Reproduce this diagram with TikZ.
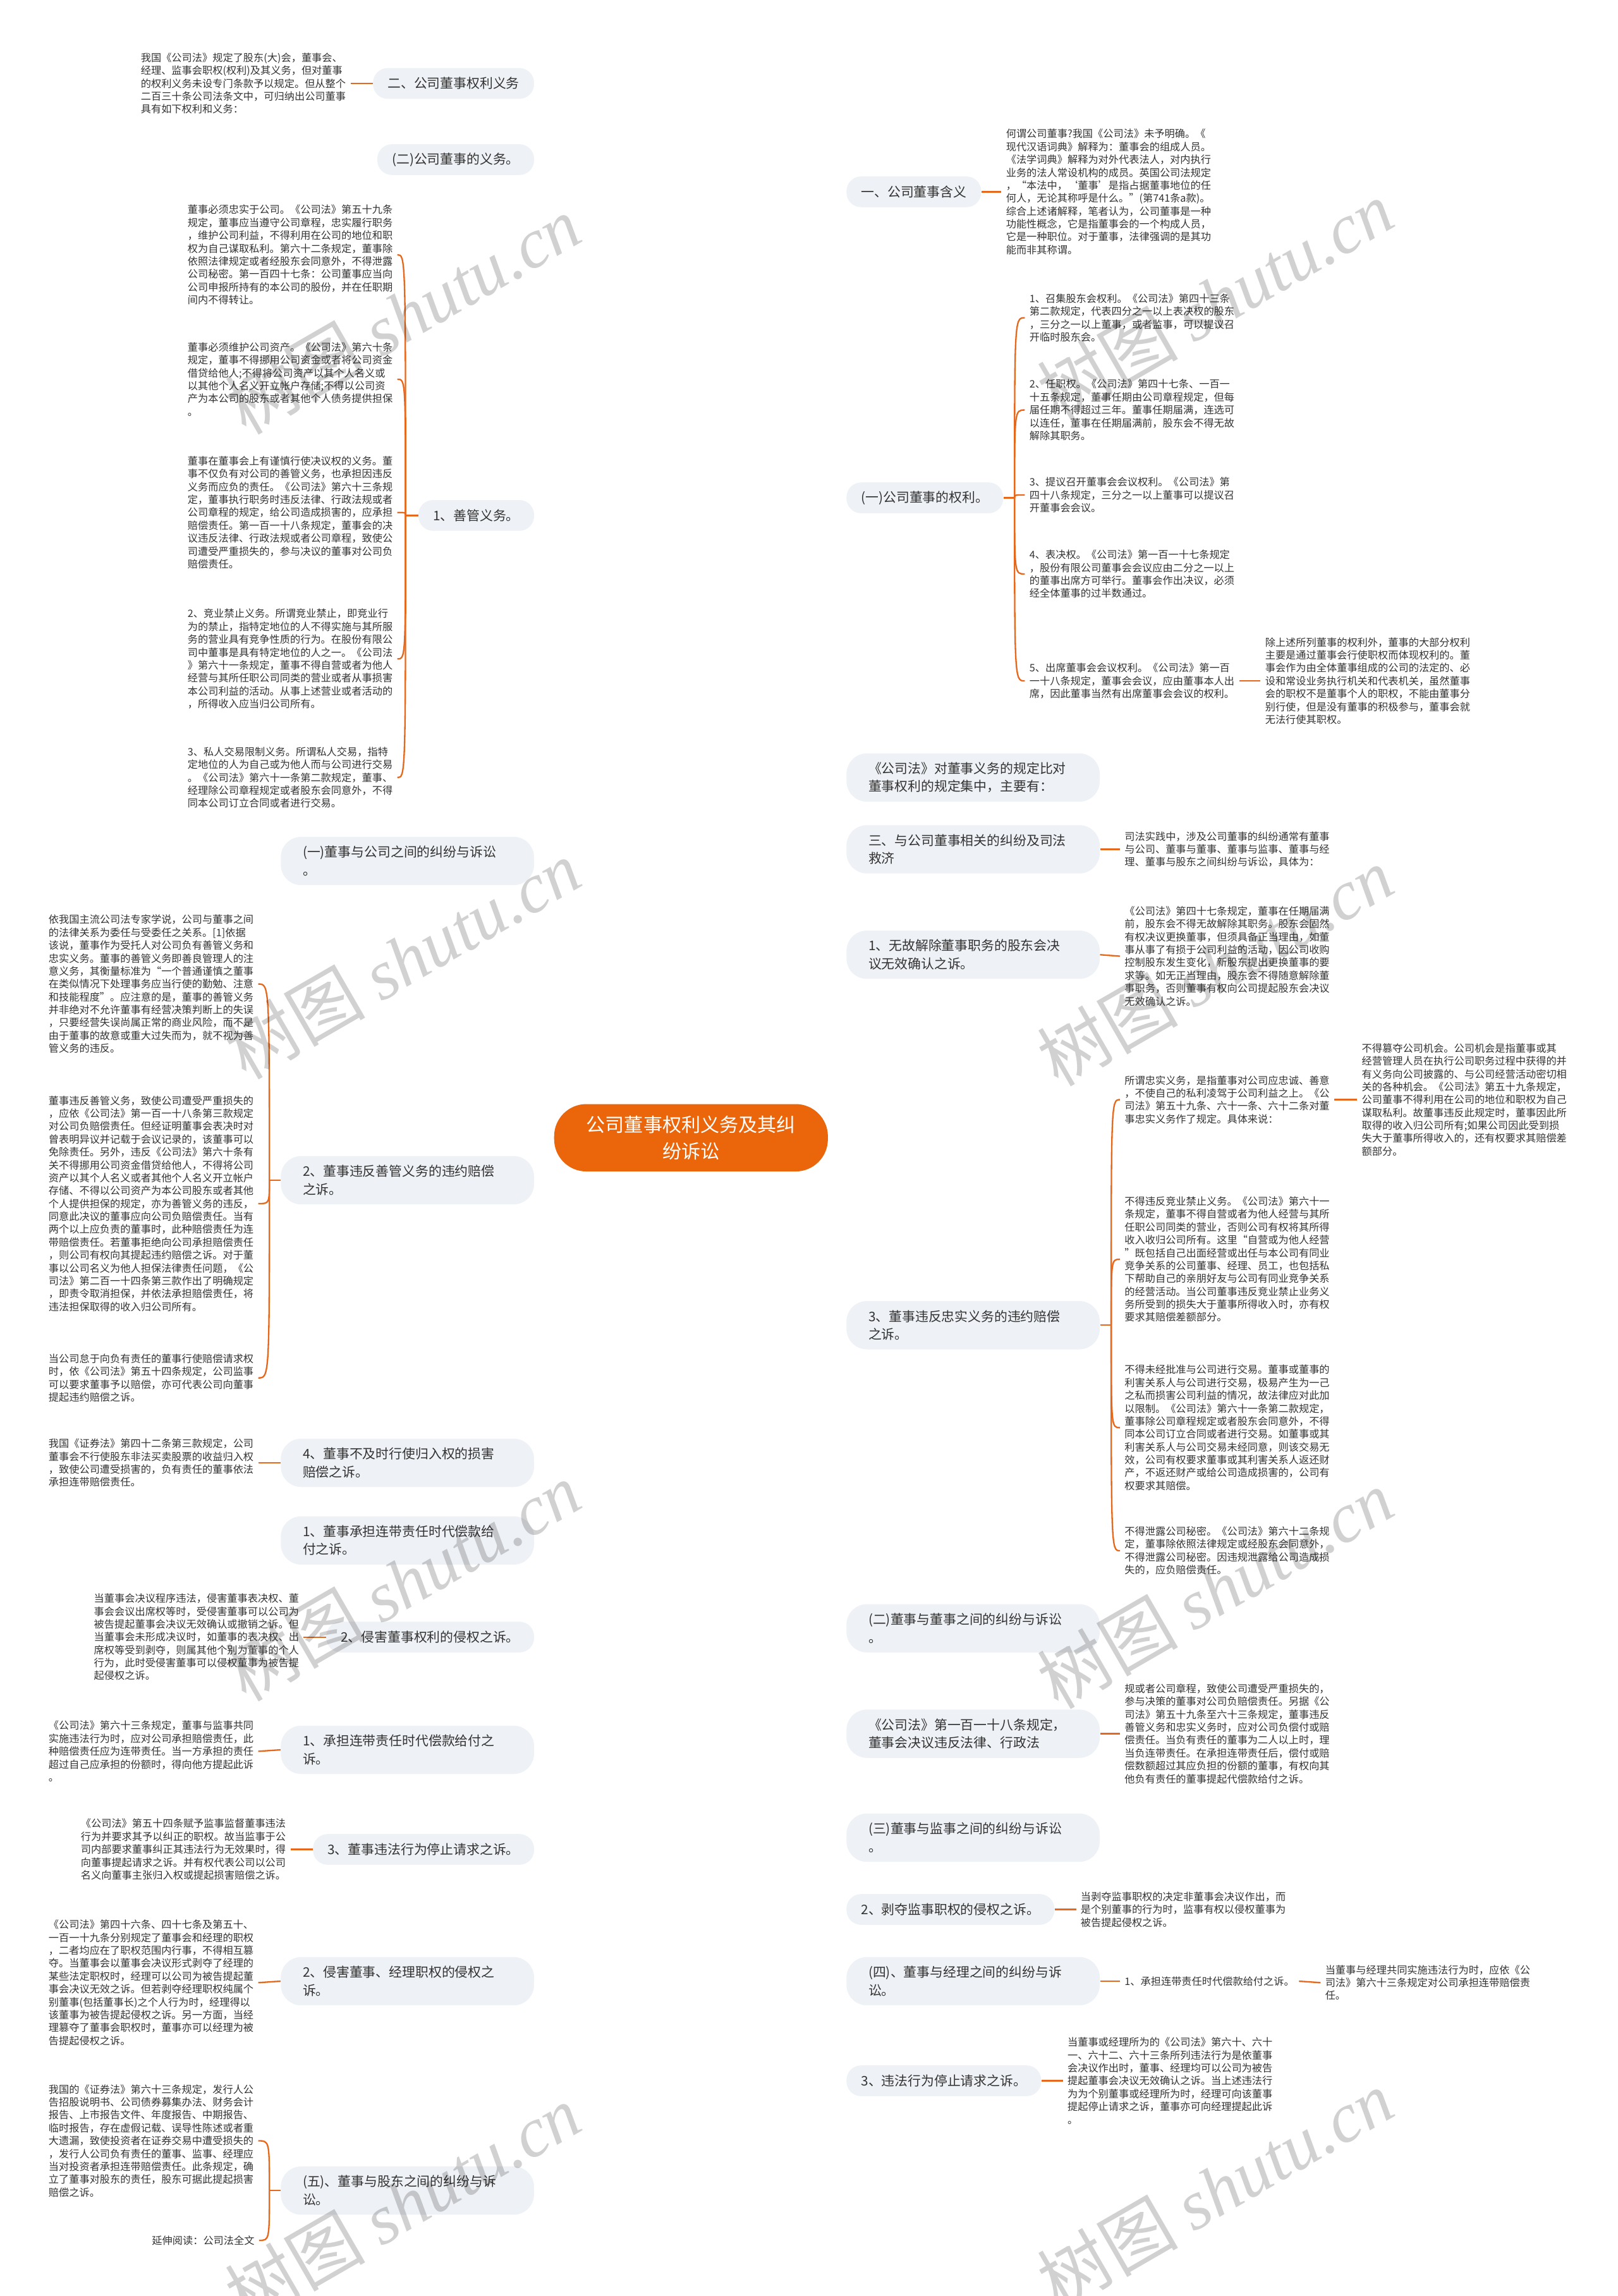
\documentclass[tikz,border=0pt]{standalone}
\usepackage{fontspec}
\setmainfont{Noto Sans CJK SC}
\newfontfamily\wmfont{Liberation Serif}
\usetikzlibrary{positioning,calc,backgrounds}
\definecolor{linkorange}{RGB}{229,104,28}
\definecolor{rootorange}{RGB}{235,102,10}
\definecolor{topicgray}{RGB}{238,241,245}
\definecolor{inkgray}{RGB}{51,51,51}
\tikzset{
  rootnode/.style={fill=rootorange, text=white, rounded corners=22pt, text width=145pt, align=center, minimum height=46pt, inner xsep=21pt, font=\fontsize{13}{18}\selectfont},
  topicnode/.style={fill=topicgray, text=inkgray, rounded corners=10pt, minimum height=21pt, inner xsep=10pt, inner ysep=3pt, font=\fontsize{9}{12.3}\selectfont},
  topicwide/.style={topicnode, text width=143pt, align=left, minimum height=33pt, inner xsep=15pt, rounded corners=14pt},
  leafnote/.style={text=inkgray, align=left, inner sep=3pt, font=\fontsize{7}{8.8}\selectfont},
  linkline/.style={draw=linkorange, line width=1pt},
  watermark/.style={rotate=30, text=black, text opacity=0.18, font=\fontsize{48}{48}\selectfont}
}

\begin{document}
\begin{tikzpicture}[x=1pt, y=-1pt]
  \useasboundingbox[fill=white] (0,0) rectangle (1105,1568);

  \node[rootnode] (root) at (472,777) {公司董事权利义务及其纠\\纷诉讼};
  \coordinate (hub) at (472,777);

  % left branches
  \node[topicnode, anchor=east] (l1) at (365,57) {二、公司董事权利义务};
  \node[topicnode, anchor=east] (l2) at (365,109) {(二)公司董事的义务。};
  \node[topicnode, anchor=east] (l3) at (365,352) {1、善管义务。};
  \node[topicwide, anchor=east] (l4) at (365,588) {(一)董事与公司之间的纠纷与诉讼\\。};
  \node[topicwide, anchor=east] (l5) at (365,806) {2、董事违反善管义务的违约赔偿\\之诉。};
  \node[topicwide, anchor=east] (l6) at (365,999) {4、董事不及时行使归入权的损害\\赔偿之诉。};
  \node[topicwide, anchor=east] (l7) at (365,1052) {1、董事承担连带责任时代偿款给\\付之诉。};
  \node[topicnode, anchor=east] (l8) at (365,1118) {2、侵害董事权利的侵权之诉。};
  \node[topicwide, anchor=east] (l9) at (365,1195) {1、承担连带责任时代偿款给付之\\诉。};
  \node[topicnode, anchor=east] (l10) at (365,1263) {3、董事违法行为停止请求之诉。};
  \node[topicwide, anchor=east] (l11) at (365,1353) {2、侵害董事、经理职权的侵权之\\诉。};
  \node[topicwide, anchor=east] (l12) at (365,1496) {(五)、董事与股东之间的纠纷与诉\\讼。};

  % right branches
  \node[topicnode, anchor=west] (r1) at (578,131) {一、公司董事含义};
  \node[topicnode, anchor=west] (r2) at (578,340) {(一)公司董事的权利。};
  \node[topicwide, anchor=west] (r3) at (578,531) {《公司法》对董事义务的规定比对\\董事权利的规定集中，主要有：};
  \node[topicwide, anchor=west] (r4) at (578,580) {三、与公司董事相关的纠纷及司法\\救济};
  \node[topicwide, anchor=west] (r5) at (578,652) {1、无故解除董事职务的股东会决\\议无效确认之诉。};
  \node[topicwide, anchor=west] (r6) at (578,905) {3、董事违反忠实义务的违约赔偿\\之诉。};
  \node[topicwide, anchor=west] (r7) at (578,1112) {(二)董事与董事之间的纠纷与诉讼\\。};
  \node[topicwide, anchor=west] (r8) at (578,1184) {《公司法》第一百一十八条规定，\\董事会决议违反法律、行政法};
  \node[topicwide, anchor=west] (r9) at (578,1255) {(三)董事与监事之间的纠纷与诉讼\\。};
  \node[topicnode, anchor=west] (r10) at (578,1304) {2、剥夺监事职权的侵权之诉。};
  \node[topicwide, anchor=west] (r11) at (578,1353) {(四)、董事与经理之间的纠纷与诉\\讼。};
  \node[topicnode, anchor=west] (r12) at (578,1421) {3、违法行为停止请求之诉。};

  % notes on the left
  \node[leafnote, anchor=west] (tl1) at (93,57) {我国《公司法》规定了股东(大)会，董事会、\\经理、监事会职权(权利)及其义务，但对董事\\的权利义务未设专门条款予以规定。但从整个\\二百三十条公司法条文中，可归纳出公司董事\\具有如下权利和义务：};
  \node[leafnote, anchor=west] (gs1) at (125,174) {董事必须忠实于公司。《公司法》第五十九条\\规定，董事应当遵守公司章程，忠实履行职务\\，维护公司利益，不得利用在公司的地位和职\\权为自己谋取私利。第六十二条规定，董事除\\依照法律规定或者经股东会同意外，不得泄露\\公司秘密。第一百四十七条：公司董事应当向\\公司申报所持有的本公司的股份，并在任职期\\间内不得转让。};
  \node[leafnote, anchor=west] (gs2) at (125,259) {董事必须维护公司资产。《公司法》第六十条\\规定，董事不得挪用公司资金或者将公司资金\\借贷给他人;不得将公司资产以其个人名义或\\以其他个人名义开立帐户存储;不得以公司资\\产为本公司的股东或者其他个人债务提供担保\\。};
  \node[leafnote, anchor=west] (gs3) at (125,350) {董事在董事会上有谨慎行使决议权的义务。董\\事不仅负有对公司的善管义务，也承担因违反\\义务而应负的责任。《公司法》第六十三条规\\定，董事执行职务时违反法律、行政法规或者\\公司章程的规定，给公司造成损害的，应承担\\赔偿责任。第一百一十八条规定，董事会的决\\议违反法律、行政法规或者公司章程，致使公\\司遭受严重损失的，参与决议的董事对公司负\\赔偿责任。};
  \node[leafnote, anchor=west] (gs4) at (125,450) {2、竞业禁止义务。所谓竞业禁止，即竞业行\\为的禁止，指特定地位的人不得实施与其所服\\务的营业具有竞争性质的行为。在股份有限公\\司中董事是具有特定地位的人之一。《公司法\\》第六十一条规定，董事不得自营或者为他人\\经营与其所任职公司同类的营业或者从事损害\\本公司利益的活动。从事上述营业或者活动的\\，所得收入应当归公司所有。};
  \node[leafnote, anchor=west] (gs5) at (125,531) {3、私人交易限制义务。所谓私人交易，指特\\定地位的人为自己或为他人而与公司进行交易\\。《公司法》第六十一条第二款规定，董事、\\经理除公司章程规定或者股东会同意外，不得\\同本公司订立合同或者进行交易。};
  \node[leafnote, anchor=west] (wy1) at (30,672) {依我国主流公司法专家学说，公司与董事之间\\的法律关系为委任与受委任之关系。[1]依据\\该说，董事作为受托人对公司负有善管义务和\\忠实义务。董事的善管义务即善良管理人的注\\意义务，其衡量标准为“一个普通谨慎之董事\\在类似情况下处理事务应当行使的勤勉、注意\\和技能程度”。应注意的是，董事的善管义务\\并非绝对不允许董事有经营决策判断上的失误\\，只要经营失误尚属正常的商业风险，而不是\\由于董事的故意或重大过失而为，就不视为善\\管义务的违反。};
  \node[leafnote, anchor=west] (wy2) at (30,822) {董事违反善管义务，致使公司遭受严重损失的\\，应依《公司法》第一百一十八条第三款规定\\对公司负赔偿责任。但经证明董事会表决时对\\曾表明异议并记载于会议记录的，该董事可以\\免除责任。另外，违反《公司法》第六十条有\\关不得挪用公司资金借贷给他人，不得将公司\\资产以其个人名义或者其他个人名义开立帐户\\存储、不得以公司资产为本公司股东或者其他\\个人提供担保的规定，亦为善管义务的违反，\\同意此决议的董事应向公司负赔偿责任。当有\\两个以上应负责的董事时，此种赔偿责任为连\\带赔偿责任。若董事拒绝向公司承担赔偿责任\\，则公司有权向其提起违约赔偿之诉。对于董\\事以公司名义为他人担保法律责任问题，《公\\司法》第二百一十四条第三款作出了明确规定\\，即责令取消担保，并依法承担赔偿责任，将\\违法担保取得的收入归公司所有。};
  \node[leafnote, anchor=west] (wy3) at (30,941) {当公司怠于向负有责任的董事行使赔偿请求权\\时，依《公司法》第五十四条规定，公司监事\\可以要求董事予以赔偿，亦可代表公司向董事\\提起违约赔偿之诉。};
  \node[leafnote, anchor=west] (tl6) at (30,999) {我国《证券法》第四十二条第三款规定，公司\\董事会不行使股东非法买卖股票的收益归入权\\，致使公司遭受损害的，负有责任的董事依法\\承担连带赔偿责任。};
  \node[leafnote, anchor=west] (tl8) at (61,1118) {当董事会决议程序违法，侵害董事表决权、董\\事会会议出席权等时，受侵害董事可以公司为\\被告提起董事会决议无效确认或撤销之诉。但\\当董事会未形成决议时，如董事的表决权、出\\席权等受到剥夺，则属其他个别为董事的个人\\行为，此时受侵害董事可以侵权董事为被告提\\起侵权之诉。};
  \node[leafnote, anchor=west] (tl9) at (30,1196) {《公司法》第六十三条规定，董事与监事共同\\实施违法行为时，应对公司承担赔偿责任，此\\种赔偿责任应为连带责任。当一方承担的责任\\超过自己应承担的份额时，得向他方提起此诉\\。};
  \node[leafnote, anchor=west] (tl10) at (52,1263) {《公司法》第五十四条赋予监事监督董事违法\\行为并要求其予以纠正的职权。故当监事于公\\司内部要求董事纠正其违法行为无效果时，得\\向董事提起请求之诉。并有权代表公司以公司\\名义向董事主张归入权或提起损害赔偿之诉。};
  \node[leafnote, anchor=west] (tl11) at (30,1354) {《公司法》第四十六条、四十七条及第五十、\\一百一十九条分别规定了董事会和经理的职权\\，二者均应在了职权范围内行事，不得相互篡\\夺。当董事会以董事会决议形式剥夺了经理的\\某些法定职权时，经理可以公司为被告提起董\\事会决议无效之诉。但若剥夺经理职权纯属个\\别董事(包括董事长)之个人行为时，经理得以\\该董事为被告提起侵权之诉。另一方面，当经\\理篡夺了董事会职权时，董事亦可以经理为被\\告提起侵权之诉。};
  \node[leafnote, anchor=west] (wg1) at (30,1462) {我国的《证券法》第六十三条规定，发行人公\\告招股说明书、公司债券募集办法、财务会计\\报告、上市报告文件、年度报告、中期报告、\\临时报告，存在虚假记载、误导性陈述或者重\\大遗漏，致使投资者在证券交易中遭受损失的\\，发行人公司负有责任的董事、监事、经理应\\当对投资者承担连带赔偿责任。此条规定，确\\立了董事对股东的责任，股东可据此提起损害\\赔偿之诉。};
  \node[leafnote, anchor=east] (wg2) at (177,1530) {延伸阅读：公司法全文};

  % notes on the right
  \node[leafnote, anchor=west] (tr1) at (684,131) {何谓公司董事?我国《公司法》未予明确。《\\现代汉语词典》解释为：董事会的组成人员。\\《法学词典》解释为对外代表法人，对内执行\\业务的法人常设机构的成员。英国公司法规定\\，“本法中，‘董事’是指占据董事地位的任\\何人，无论其称呼是什么。”(第741条a款)。\\综合上述诸解释，笔者认为，公司董事是一种\\功能性概念，它是指董事会的一个构成人员，\\它是一种职位。对于董事，法律强调的是其功\\能而非其称谓。};
  \node[leafnote, anchor=west] (qr1) at (700,217) {1、召集股东会权利。《公司法》第四十三条\\第二款规定，代表四分之一以上表决权的股东\\，三分之一以上董事，或者监事，可以提议召\\开临时股东会。};
  \node[leafnote, anchor=west] (qr2) at (700,280) {2、任职权。《公司法》第四十七条、一百一\\十五条规定，董事任期由公司章程规定，但每\\届任期不得超过三年。董事任期届满，连选可\\以连任，董事在任期届满前，股东会不得无故\\解除其职务。};
  \node[leafnote, anchor=west] (qr3) at (700,338) {3、提议召开董事会会议权利。《公司法》第\\四十八条规定，三分之一以上董事可以提议召\\开董事会会议。};
  \node[leafnote, anchor=west] (qr4) at (700,392) {4、表决权。《公司法》第一百一十七条规定\\，股份有限公司董事会会议应由二分之一以上\\的董事出席方可举行。董事会作出决议，必须\\经全体董事的过半数通过。};
  \node[leafnote, anchor=west] (qr5) at (700,465) {5、出席董事会会议权利。《公司法》第一百\\一十八条规定，董事会会议，应由董事本人出\\席，因此董事当然有出席董事会会议的权利。};
  \node[leafnote, anchor=west] (qr6) at (861,465) {除上述所列董事的权利外，董事的大部分权利\\主要是通过董事会行使职权而体现权利的。董\\事会作为由全体董事组成的公司的法定的、必\\设和常设业务执行机关和代表机关，虽然董事\\会的职权不是董事个人的职权，不能由董事分\\别行使，但是没有董事的积极参与，董事会就\\无法行使其职权。};
  \node[leafnote, anchor=west] (tr4) at (765,580) {司法实践中，涉及公司董事的纠纷通常有董事\\与公司、董事与董事、董事与监事、董事与经\\理、董事与股东之间纠纷与诉讼，具体为：};
  \node[leafnote, anchor=west] (tr5) at (765,653) {《公司法》第四十七条规定，董事在任期届满\\前，股东会不得无故解除其职务。股东会固然\\有权决议更换董事，但须具备正当理由，如董\\事从事了有损于公司利益的活动，因公司收购\\控制股东发生变化，新股东提出更换董事的要\\求等。如无正当理由，股东会不得随意解除董\\事职务，否则董事有权向公司提起股东会决议\\无效确认之诉。};
  \node[leafnote, anchor=west] (zs1) at (765,751) {所谓忠实义务，是指董事对公司应忠诚、善意\\，不使自己的私利凌驾于公司利益之上。《公\\司法》第五十九条、六十一条、六十二条对董\\事忠实义务作了规定。具体来说：};
  \node[leafnote, anchor=west] (zs5) at (927,751) {不得篡夺公司机会。公司机会是指董事或其\\经营管理人员在执行公司职务过程中获得的并\\有义务向公司披露的、与公司经营活动密切相\\关的各种机会。《公司法》第五十九条规定，\\公司董事不得利用在公司的地位和职权为自己\\谋取私利。故董事违反此规定时，董事因此所\\取得的收入归公司所有;如果公司因此受到损\\失大于董事所得收入的，还有权要求其赔偿差\\额部分。};
  \node[leafnote, anchor=west] (zs2) at (765,860) {不得违反竞业禁止义务。《公司法》第六十一\\条规定，董事不得自营或者为他人经营与其所\\任职公司同类的营业，否则公司有权将其所得\\收入收归公司所有。这里“自营或为他人经营\\”既包括自己出面经营或出任与本公司有同业\\竞争关系的公司董事、经理、员工，也包括私\\下帮助自己的亲朋好友与公司有同业竞争关系\\的经营活动。当公司董事违反竞业禁止业务义\\务所受到的损失大于董事所得收入时，亦有权\\要求其赔偿差额部分。};
  \node[leafnote, anchor=west] (zs3) at (765,975) {不得未经批准与公司进行交易。董事或董事的\\利害关系人与公司进行交易，极易产生为一己\\之私而损害公司利益的情况，故法律应对此加\\以限制。《公司法》第六十一条第二款规定，\\董事除公司章程规定或者股东会同意外，不得\\同本公司订立合同或者进行交易。如董事或其\\利害关系人与公司交易未经同意，则该交易无\\效，公司有权要求董事或其利害关系人返还财\\产，不返还财产或给公司造成损害的，公司有\\权要求其赔偿。};
  \node[leafnote, anchor=west] (zs4) at (765,1059) {不得泄露公司秘密。《公司法》第六十二条规\\定，董事除依照法律规定或经股东会同意外，\\不得泄露公司秘密。因违规泄露给公司造成损\\失的，应负赔偿责任。};
  \node[leafnote, anchor=west] (tr8) at (765,1184) {规或者公司章程，致使公司遭受严重损失的，\\参与决策的董事对公司负赔偿责任。另据《公\\司法》第五十九条至六十三条规定，董事违反\\善管义务和忠实义务时，应对公司负偿付或赔\\偿责任。当负有责任的董事为二人以上时，理\\当负连带责任。在承担连带责任后，偿付或赔\\偿数额超过其应负担的份额的董事，有权向其\\他负有责任的董事提起代偿款给付之诉。};
  \node[leafnote, anchor=west] (tr10) at (735,1304) {当剥夺监事职权的决定非董事会决议作出，而\\是个别董事的行为时，监事有权以侵权董事为\\被告提起侵权之诉。};
  \node[leafnote, anchor=west] (jl1) at (765,1353) {1、承担连带责任时代偿款给付之诉。};
  \node[leafnote, anchor=west] (jl2) at (902,1354) {当董事与经理共同实施违法行为时，应依《公\\司法》第六十三条规定对公司承担连带赔偿责\\任。};
  \node[leafnote, anchor=west] (tr12) at (726,1421) {当董事或经理所为的《公司法》第六十、六十\\一、六十二、六十三条所列违法行为是依董事\\会决议作出时，董事、经理均可以公司为被告\\提起董事会决议无效确认之诉。当上述违法行\\为为个别董事或经理所为时，经理可向该董事\\提起停止请求之诉，董事亦可向经理提起此诉\\。};

  \coordinate (gsj) at (277,352);
  \coordinate (wyj) at (184,806);
  \coordinate (wgj) at (184,1496);
  \coordinate (qrj) at (693,340);
  \coordinate (zsj) at (759,905);

  \begin{scope}[on background layer]
    \foreach \n in {l1,l2,l3,l4,l5,l6,l7,l8,l9,l10,l11,l12}
      \draw[linkline] (hub) .. controls (hub |- \n.east) and ($(\n.east)+(53,0)$) .. (\n.east);
    \foreach \n in {r1,r2,r3,r4,r5,r6,r7,r8,r9,r10,r11,r12}
      \draw[linkline] (hub) .. controls (hub |- \n.west) and ($(\n.west)+(-53,0)$) .. (\n.west);
  \end{scope}

  \draw[linkline] (l1.west) -- (tl1.east);
  \draw[linkline] (l6.west) -- (tl6.east);
  \draw[linkline] (l8.west) -- (tl8.east);
  \draw[linkline] (l9.west) -- (tl9.east);
  \draw[linkline] (l10.west) -- (tl10.east);
  \draw[linkline] (l11.west) -- (tl11.east);
  \draw[linkline] (r1.east) -- (tr1.west);
  \draw[linkline] (r4.east) -- (tr4.west);
  \draw[linkline] (r5.east) -- (tr5.west);
  \draw[linkline] (r8.east) -- (tr8.west);
  \draw[linkline] (r10.east) -- (tr10.west);
  \draw[linkline] (r11.east) -- (jl1.west);
  \draw[linkline] (jl1.east) -- (jl2.west);
  \draw[linkline] (r12.east) -- (tr12.west);
  \draw[linkline] (qr5.east) -- (qr6.west);
  \draw[linkline] (zs1.east) -- (zs5.west);

  \draw[linkline] (l3.west) -- (gsj);
  \foreach \c in {gs1,gs2,gs3,gs4,gs5}
    \draw[linkline] (gsj) .. controls (gsj |- \c.east) and (gsj |- \c.east) .. (\c.east);
  \draw[linkline] (l5.west) -- (wyj);
  \foreach \c in {wy1,wy2,wy3}
    \draw[linkline] (wyj) .. controls (wyj |- \c.east) and (wyj |- \c.east) .. (\c.east);
  \draw[linkline] (l12.west) -- (wgj);
  \foreach \c in {wg1,wg2}
    \draw[linkline] (wgj) .. controls (wgj |- \c.east) and (wgj |- \c.east) .. (\c.east);
  \draw[linkline] (r2.east) -- (qrj);
  \foreach \c in {qr1,qr2,qr3,qr4,qr5}
    \draw[linkline] (qrj) .. controls (qrj |- \c.west) and (qrj |- \c.west) .. (\c.west);
  \draw[linkline] (r6.east) -- (zsj);
  \foreach \c in {zs1,zs2,zs3,zs4}
    \draw[linkline] (zsj) .. controls (zsj |- \c.west) and (zsj |- \c.west) .. (\c.west);

  \foreach \wx/\wy [count=\k] in {275/215,830/205,275/655,830/660,275/1080,830/1085,275/1505,830/1495}
    \node[watermark] (wm\k) at (\wx,\wy) {树图 {\wmfont\itshape shutu.cn}};
\end{tikzpicture}
\end{document}
